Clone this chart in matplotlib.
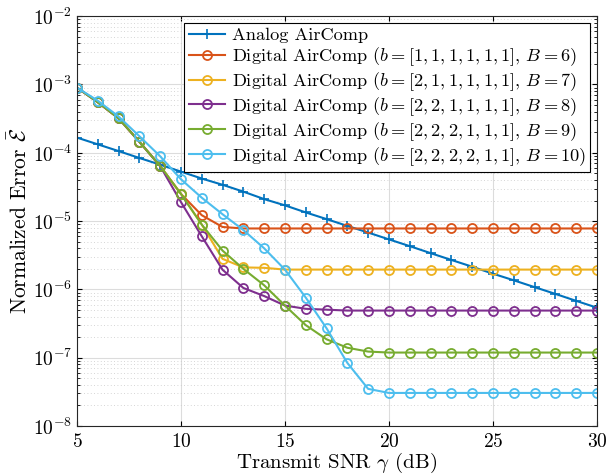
import numpy as np
import matplotlib
matplotlib.use('Agg')
import matplotlib.pyplot as plt
from matplotlib.ticker import FixedLocator, NullFormatter

plt.rcParams['font.family'] = 'serif'
plt.rcParams['font.serif'] = ['cmr10', 'DejaVu Serif']
plt.rcParams['mathtext.fontset'] = 'cm'
plt.rcParams['axes.formatter.use_mathtext'] = True

# transmit SNR (dB)
snr = list(range(5, 31))

analog = [1.67e-4, 1.33e-4, 1.06e-4, 8.4e-5, 6.7e-5, 5.3e-5, 4.2e-5, 3.4e-5, 2.7e-5,
          2.1e-5, 1.7e-5, 1.34e-5, 1.07e-5, 8.5e-6, 6.8e-6, 5.4e-6, 4.3e-6, 3.4e-6,
          2.7e-6, 2.15e-6, 1.7e-6, 1.36e-6, 1.08e-6, 8.6e-7, 6.8e-7, 5.4e-7]

head = [9.0e-4, 5.5e-4, 3.2e-4, 1.45e-4, 6.4e-5]
dig_b6 = head + [2.5e-5, 1.22e-5, 8.2e-6] + [7.8e-6] * 18
dig_b7 = head + [2.5e-5, 8.9e-6, 2.8e-6, 2.1e-6, 2.07e-6] + [1.95e-6] * 16
dig_b8 = head + [1.9e-5, 6.0e-6, 1.94e-6, 1.05e-6, 8.0e-7, 5.8e-7, 5.2e-7, 5.05e-7] + [4.9e-7] * 13
dig_b9 = head + [2.5e-5, 8.9e-6, 3.7e-6, 2.0e-6, 1.15e-6, 5.8e-7, 3.0e-7, 1.86e-7,
                 1.4e-7, 1.23e-7] + [1.19e-7] * 11
dig_b10 = [9.0e-4, 5.8e-4, 3.4e-4, 1.75e-4, 8.9e-5, 4.1e-5, 2.2e-5, 1.26e-5, 7.4e-6,
           4.0e-6, 1.95e-6, 7.6e-7, 2.7e-7, 8.4e-8, 3.5e-8] + [3.05e-8] * 11

yticks = [1e-8, 1e-7, 1e-6, 1e-5, 1e-4, 1e-3, 1e-2]

labels = [
    'Analog AirComp',
    r'Digital AirComp ($b=[1,1,1,1,1,1]$, $B=6$)',
    r'Digital AirComp ($b=[2,1,1,1,1,1]$, $B=7$)',
    r'Digital AirComp ($b=[2,2,1,1,1,1]$, $B=8$)',
    r'Digital AirComp ($b=[2,2,2,1,1,1]$, $B=9$)',
    r'Digital AirComp ($b=[2,2,2,2,1,1]$, $B=10$)',
]
colors = ['#0072BD', '#D95319', '#EDB120', '#7E2F8E', '#77AC30', '#4DBEEE']

fig = plt.figure(figsize=(6.06, 4.76), dpi=100)
ax = fig.add_axes([0.127, 0.105, 0.858, 0.861])

ax.plot(snr, analog, '-+', color=colors[0], lw=1.5, ms=7, mew=1.2, label=labels[0])
for ys, c, lab in zip([dig_b6, dig_b7, dig_b8, dig_b9, dig_b10], colors[1:], labels[1:]):
    ax.plot(snr, ys, '-o', color=c, lw=1.5, ms=6.5, mfc='none', mew=1.3, label=lab)

ax.set_yscale('log')
ax.set_xlim(5, 30)
ax.set_ylim(1e-8, 1e-2)
ax.set_xticks([5, 10, 15, 20, 25, 30])
ax.set_yticks(yticks)
minor = [m * t for t in yticks[:-1] for m in range(2, 10)]
ax.yaxis.set_minor_locator(FixedLocator(minor))
ax.yaxis.set_minor_formatter(NullFormatter())

ax.grid(True, which='major', color='#dcdcdc', lw=0.8)
ax.grid(True, which='minor', axis='y', color='#c8c8c8', lw=0.6, ls=(0, (1, 3)))
ax.set_axisbelow(True)
ax.tick_params(which='both', direction='in', top=True, right=True, labelsize=14)
ax.tick_params(axis='x', pad=5)
for s in ax.spines.values():
    s.set_color('#262626')
    s.set_linewidth(0.8)

ax.set_xlabel(r'Transmit SNR $\gamma$ (dB)', fontsize=15, labelpad=0)
ax.set_ylabel(r'Normalized Error $\bar{\mathcal{E}}$', fontsize=15.5, labelpad=1)

leg = ax.legend(loc='upper right', fontsize=13.2, fancybox=False, framealpha=1,
                edgecolor='black', borderaxespad=0.35, handlelength=2.0,
                labelspacing=0.12, borderpad=0.25, handletextpad=0.35)
leg.get_frame().set_linewidth(0.8)

fig.savefig('out.png', dpi=100)
